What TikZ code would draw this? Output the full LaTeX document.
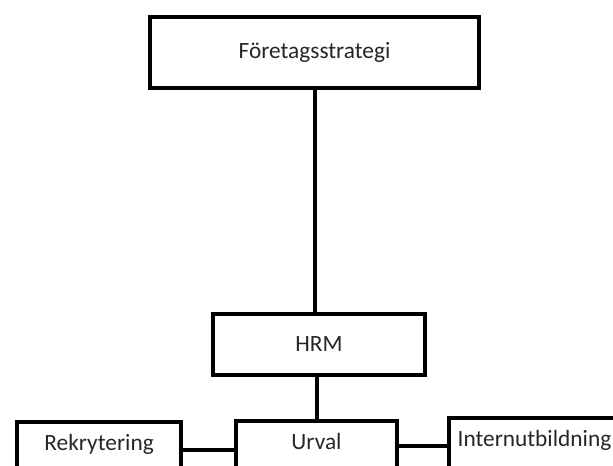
\documentclass[tikz,border=0pt]{standalone}
\usepackage{fontspec}
\setmainfont{Carlito}
\usetikzlibrary{positioning}

\tikzset{
    block/.style={draw, rectangle, line width=3pt, text=black!85, font=\fontsize{17.5}{20}\selectfont},
    low/.style={block, minimum width=123pt, minimum height=42pt, text height=12pt, text depth=12pt},
    link/.style={line width=3pt}
}

\begin{document}
\begin{tikzpicture}[x=0.75pt, y=0.75pt, node distance=75pt]
    \useasboundingbox (0,0) rectangle (613,-465);
    \clip (0,0) rectangle (613,-465);

    \node (strategy) [block, minimum width=246.75pt, minimum height=53.25pt] at (314.5,-52.5) {Företagsstrategi};
    \node (hrm) [block, below of=strategy, yshift=-144pt, xshift=3.4pt, minimum width=159pt, minimum height=45.75pt] {HRM};

    \node (urval) [low, below of=hrm, yshift=-3.4pt, xshift=-1.9pt, minimum width=120.75pt] {Urval};
    \node (recruit) [low, left of=urval, xshift=-88.1pt, yshift=-0.75pt] {Rekrytering};
    \node (training) [low, right of=urval, xshift=88.5pt, yshift=2.25pt, minimum width=128.25pt] {Internutbildning};

    \draw [link] (strategy.south) -- (strategy.south |- hrm.north);
    \draw [link] (urval.north |- hrm.south) -- (urval.north);
    \draw [link] (recruit.east) -- (urval.west |- recruit.east);
    \draw [link] (urval.east |- training.west) -- (training.west);
\end{tikzpicture}
\end{document}
